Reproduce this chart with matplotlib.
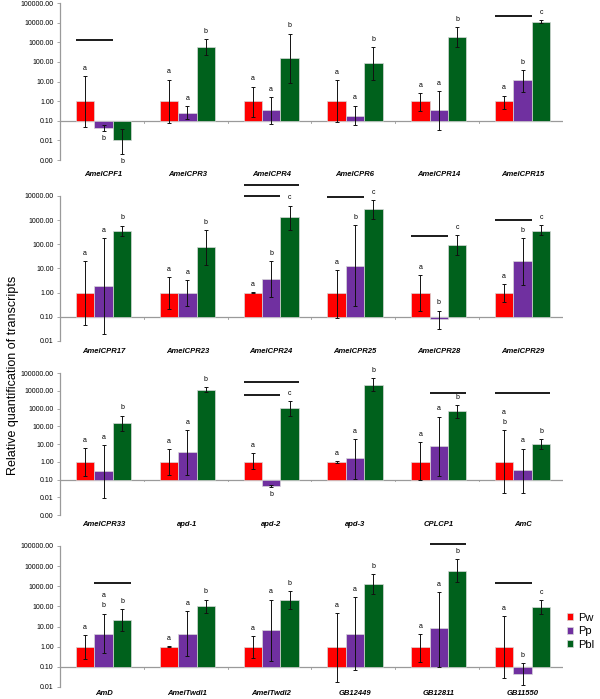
import matplotlib
matplotlib.use('Agg')
import matplotlib.pyplot as plt
from matplotlib.patches import Patch

plt.rcParams['font.family'] = ['Liberation Sans', 'DejaVu Sans']

# ---- data, one block per panel ----
genes1 = ['AmelCPF1', 'AmelCPR3', 'AmelCPR4', 'AmelCPR6', 'AmelCPR14', 'AmelCPR15']
pw1 = [1, 1, 1, 1, 1, 1]
pw1_lo = [0.05, 0.076, 0.154, 0.09, 0.31, 0.42]
pw1_hi = [19.5, 12.7, 5.6, 12, 2.5, 1.95]
pp1 = [0.043, 0.26, 0.36, 0.18, 0.35, 11.4]
pp1_lo = [0.03, 0.126, 0.068, 0.06, 0.033, 2.8]
pp1_hi = [0.06, 0.54, 1.66, 0.6, 3.2, 37]
pbl1 = [0.01, 590, 162, 87, 1900, 11000]
pbl1_lo = [0.002, 223, 8.6, 11.4, 590, 10000]
pbl1_hi = [0.04, 1450, 2800, 550, 5800, 13500]
let1 = [['a', 'b', 'b'], ['a', 'a', 'b'], ['a', 'a', 'b'], ['a', 'a', 'b'], ['a', 'a', 'b'], ['a', 'b', 'c']]
down1 = [(0, 1), (0, 2)]
lines1 = [(0, 0, 1, 1300), (5, 0, 1, 22000)]

genes2 = ['AmelCPR17', 'AmelCPR23', 'AmelCPR24', 'AmelCPR25', 'AmelCPR28', 'AmelCPR29']
pw2 = [1, 1, 1, 1, 1, 1]
pw2_lo = [0.048, 0.21, 0.95, 0.09, 0.18, 0.41]
pw2_hi = [21, 4.3, 1.05, 8.3, 5.3, 2.2]
pp2 = [1.95, 1.0, 3.7, 13, 0.083, 20]
pp2_lo = [0.02, 0.28, 0.68, 0.29, 0.032, 2.0]
pp2_hi = [180, 3.3, 20, 640, 0.18, 180]
pbl2 = [360, 77, 1300, 2950, 94, 370]
pbl2_lo = [215, 14.6, 410, 1140, 36, 237]
pbl2_hi = [600, 400, 4000, 7000, 245, 620]
let2 = [['a', 'a', 'b'], ['a', 'a', 'b'], ['a', 'b', 'c'], ['a', 'b', 'c'], ['a', 'b', 'c'], ['a', 'b', 'c']]
down2 = []
lines2 = [(2, 0, 2, 27500), (2, 0, 1, 9600), (3, 0, 1, 9000), (4, 0, 1, 213), (5, 0, 1, 1000)]

genes3 = ['AmelCPR33', 'apd-1', 'apd-2', 'apd-3', 'CPLCP1', 'AmC']
pw3 = [1, 1, 1, 1, 1, 1]
pw3_lo = [0.16, 0.18, 0.37, 0.9, 0.1, 0.018]
pw3_hi = [6.2, 5.2, 3.0, 1.1, 12.5, 59]
pp3 = [0.3, 3.4, 0.046, 1.7, 7.7, 0.34]
pp3_lo = [0.0088, 0.17, 0.04, 0.11, 0.16, 0.018]
pp3_hi = [8.4, 60, 0.05, 19, 350, 5.6]
pbl3 = [160, 11000, 1050, 22000, 710, 10.7]
pbl3_lo = [57, 8300, 400, 9500, 310, 5.5]
pbl3_hi = [400, 16000, 2500, 52000, 1550, 19]
let3 = [['a', 'a', 'b'], ['a', 'a', 'b'], ['a', 'b', 'c'], ['a', 'a', 'b'], ['a', 'a', 'b'], ['a\nb', 'a', 'b']]
down3 = [(2, 1)]
lines3 = [(2, 0, 2, 30000), (2, 0, 1, 5900), (4, 1, 2, 8000), (5, 0, 2, 8000)]

genes4 = ['AmD', 'AmelTwdl1', 'AmelTwdl2', 'GB12449', 'GB12811', 'GB11550']
pw4 = [1, 1, 1, 1, 1, 1]
pw4_lo = [0.24, 0.95, 0.26, 0.018, 0.18, 0.028]
pw4_hi = [3.7, 1.05, 3.4, 45, 4.4, 33]
pp4 = [4.4, 4.4, 6.5, 4.4, 8.2, 0.045]
pp4_lo = [0.47, 0.33, 0.19, 0.068, 0.1, 0.012]
pp4_hi = [44, 61, 220, 280, 520, 0.147]
pbl4 = [22, 105, 210, 1300, 6000, 93]
pbl4_lo = [5.8, 47, 74, 410, 1650, 44]
pbl4_hi = [72, 220, 560, 3900, 23000, 200]
let4 = [['a', 'a\nb', 'b'], ['a', 'a', 'b'], ['a', 'a', 'b'], ['a', 'a', 'b'], ['a', 'a', 'b'], ['a', 'b', 'c']]
down4 = []
lines4 = [(0, 1, 2, 1400), (4, 1, 2, 130000), (5, 0, 1, 1450)]

series = ['Pw', 'Pp', 'Pbl']
colors = ['#FF0000', '#7030A0', '#00611C']

panels = [
    (genes1, [pw1, pp1, pbl1], [pw1_lo, pp1_lo, pbl1_lo], [pw1_hi, pp1_hi, pbl1_hi], let1, down1, lines1),
    (genes2, [pw2, pp2, pbl2], [pw2_lo, pp2_lo, pbl2_lo], [pw2_hi, pp2_hi, pbl2_hi], let2, down2, lines2),
    (genes3, [pw3, pp3, pbl3], [pw3_lo, pp3_lo, pbl3_lo], [pw3_hi, pp3_hi, pbl3_hi], let3, down3, lines3),
    (genes4, [pw4, pp4, pbl4], [pw4_lo, pp4_lo, pbl4_lo], [pw4_hi, pp4_hi, pbl4_hi], let4, down4, lines4),
]
ylims = [(-3, 5), (-2, 4), (-3, 5), (-2, 5)]   # decades
# axes boxes (left, bottom, width, height) in figure fraction
boxes = [(0.1, 0.771, 0.838, 0.2246),
         (0.1, 0.5122, 0.838, 0.2074),
         (0.1, 0.2632, 0.838, 0.2031),
         (0.1, 0.0172, 0.838, 0.2017)]
label_pad = [8, 5, 4.5, 2.5]

fig = plt.figure(figsize=(6, 6.99), dpi=100)
bw = 0.22
base = 0.1

for p, (genes, vals, los, his, lets, downs, sig) in enumerate(panels):
    ax = fig.add_axes(boxes[p])
    ax.set_yscale('log')
    lo_e, hi_e = ylims[p]
    ax.set_ylim(10.0 ** lo_e, 10.0 ** hi_e)
    ax.set_xlim(0, 6)
    for s in range(3):
        xs = [i + 0.52 + (s - 1) * bw for i in range(6)]
        h = [v - base for v in vals[s]]
        ax.bar(xs, h, bw, bottom=base, color=colors[s], edgecolor='#d8d8d8',
               linewidth=0.5, zorder=2)
        err = [[v - l for v, l in zip(vals[s], los[s])],
               [hh - v for v, hh in zip(vals[s], his[s])]]
        ax.errorbar(xs, vals[s], yerr=err, fmt='none', ecolor='#111111',
                    elinewidth=0.7, capsize=1.5, capthick=0.7, zorder=3)
        for i in range(6):
            if (i, s) in downs:
                ax.annotate(lets[i][s], (xs[i], los[s][i]), xytext=(0, -3),
                            textcoords='offset points', ha='center', va='top',
                            fontsize=5, linespacing=1.6)
            else:
                ax.annotate(lets[i][s], (xs[i], his[s][i]), xytext=(0, 3),
                            textcoords='offset points', ha='center', va='bottom',
                            fontsize=5, linespacing=1.6)
    for gi, b0, b1, yv in sig:
        x0 = gi + 0.52 + (b0 - 1) * bw - bw / 2
        x1 = gi + 0.52 + (b1 - 1) * bw + bw / 2
        ax.plot([x0, x1], [yv, yv], color='#1a1a1a', lw=1.4, clip_on=False,
                solid_capstyle='butt', zorder=4)

    # baseline at 0.1 with small boundary ticks
    ax.axhline(base, color='#9a9a9a', lw=0.9, zorder=1)
    for k in range(7):
        ax.plot([k, k], [base, base * 0.78], color='#9a9a9a', lw=0.6, zorder=1)

    for side in ['top', 'right', 'bottom']:
        ax.spines[side].set_visible(False)
    ax.spines['left'].set_color('#9a9a9a')
    ax.spines['left'].set_linewidth(0.9)
    ax.set_yticks([10.0 ** e for e in range(lo_e, hi_e + 1)])
    ax.yaxis.set_minor_locator(matplotlib.ticker.NullLocator())
    ax.set_yticklabels(['%.2f' % (10.0 ** e) for e in range(lo_e, hi_e + 1)])
    ax.tick_params(axis='y', labelsize=5, length=2.5, width=0.6, color='#9a9a9a', pad=2)
    ax.set_xticks([i + 0.52 for i in range(6)])
    ax.set_xticklabels(genes, fontsize=5.5, fontweight='bold', fontstyle='italic')
    ax.tick_params(axis='x', length=0, pad=label_pad[p])

fig.text(0.022, 0.4635, 'Relative quantification of transcripts', rotation=90,
         ha='center', va='center', fontsize=9)

handles = [Patch(facecolor=c, edgecolor='#d8d8d8', linewidth=0.5) for c in colors]
fig.legend(handles, series, loc='center left', bbox_to_anchor=(0.937, 0.097),
           frameon=False, fontsize=8, handlelength=0.6, handleheight=0.6,
           handletextpad=0.4, labelspacing=0.3, borderaxespad=0)

fig.savefig('out.png', dpi=100)
